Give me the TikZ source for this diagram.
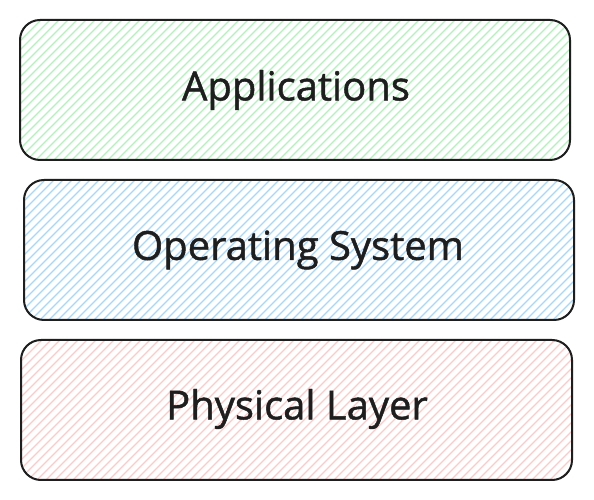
\documentclass[tikz,border=0pt]{standalone}
\usepackage{fontspec}
\setmainfont{Open Sans}
\newfontfamily\hand{Open Sans}[FakeBold=1.2]
\definecolor{ink}{HTML}{1E1E1E}
\definecolor{hgreen}{HTML}{B2F2BB}
\definecolor{hblue}{HTML}{A5D8FF}
\definecolor{hred}{HTML}{FFC9C9}
\tikzset{
  layerbox/.style={draw=ink, line width=2pt, rounded corners=20pt},
  layertext/.style={font=\hand\fontsize{40}{44}\selectfont, text=ink},
}
\newcommand{\hachbox}[6]{% x1 y1 x2 y2 color name
  \begin{scope}
    \clip[rounded corners=20pt] (#1,#2) rectangle (#3,#4);
    \foreach \k in {-200,-191,...,600} {
      \draw[#5, line width=1.1pt] (#1+\k,#2) -- (#1+\k+200,#2+200);
    }
  \end{scope}
  \draw[layerbox] (#1,#2) rectangle (#3,#4);
  \coordinate (#6) at ({(#1+#3)/2},{(#2+#4)/2});
}
\begin{document}
\begin{tikzpicture}[x=1pt,y=1pt]
\useasboundingbox (0,0) rectangle (594,500);
\fill[white] (0,0) rectangle (594,500);
\hachbox{20}{340}{570}{480}{hgreen}{c1}
\hachbox{24}{180}{574}{320}{hblue}{c2}
\hachbox{21}{20}{572}{160}{hred}{c3}
\node[layertext] (t1) at (296,410) {Applications};
\node[layertext] (t2) at (298,250) {Operating System};
\node[layertext] (t3) at (297,91) {Physical Layer};
\end{tikzpicture}
\end{document}
